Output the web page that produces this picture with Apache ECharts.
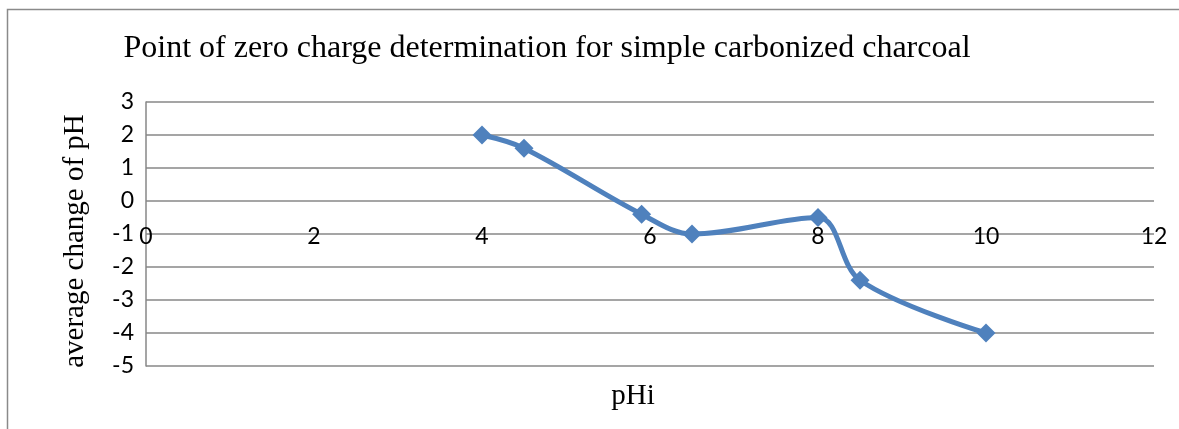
<!DOCTYPE html>
<html>
<head>
<meta charset="utf-8">
<script src="https://cdn.jsdelivr.net/npm/echarts@6/dist/echarts.min.js"></script>
<style>
  html, body { margin: 0; padding: 0; background: #fff; }
  #chart { width: 1179px; height: 429px; }
</style>
</head>
<body>
<div id="chart"></div>
<script>
// Initial pH of each solution and the average pH change measured after contact
const pHi = [4, 4.5, 5.9, 6.5, 8, 8.5, 10];
const deltaPH = [2, 1.6, -0.4, -1, -0.5, -2.4, -4];
const xTicks = [0, 2, 4, 6, 8, 10, 12];
const yTicks = [-5, -4, -3, -2, -1, 0, 1, 2, 3];

const titleText = 'Point of zero charge determination for simple carbonized charcoal';
const xName = 'pHi';
const yName = 'average change of pH';

const points = pHi.map((x, i) => [x, deltaPH[i]]);
const gridColor = '#878787';
const serif = '"Liberation Serif", "Times New Roman", serif';
const sans = 'Lato, Carlito, Calibri, sans-serif';

const chart = echarts.init(document.getElementById('chart'), null, { renderer: 'canvas' });
chart.setOption({
  animation: false,
  backgroundColor: '#ffffff',
  title: {
    text: titleText,
    left: 542,
    top: 28,
    textAlign: 'center',
    textStyle: { fontFamily: serif, fontSize: 32, fontWeight: 'normal', color: '#000' }
  },
  graphic: [
    {
      // outer chart frame
      type: 'rect',
      shape: { x: 7.5, y: 9.5, width: 1300, height: 600 },
      style: { fill: null, stroke: '#8a8a8a', lineWidth: 1.5 },
      silent: true
    },
    {
      // y-axis title
      type: 'text',
      x: 75, y: 241,
      rotation: Math.PI / 2,
      style: {
        text: yName, fill: '#000',
        font: '29px ' + serif,
        align: 'center', verticalAlign: 'middle'
      },
      silent: true
    },
    {
      // x-axis title
      type: 'text',
      x: 633, y: 396,
      style: {
        text: xName, fill: '#000',
        font: '29px ' + serif,
        align: 'center', verticalAlign: 'middle'
      },
      silent: true
    }
  ],
  grid: { left: 146, right: 25, top: 102, bottom: 63, containLabel: false, outerBoundsMode: 'none' },
  xAxis: {
    type: 'value',
    position: 'bottom',
    min: xTicks[0],
    max: xTicks[xTicks.length - 1],
    interval: 2,
    axisLine: { show: false, onZero: false },
    axisTick: { show: false },
    splitLine: { show: false },
    axisLabel: {
      // tick labels sit along the -1 gridline, above the bottom edge
      margin: -141,
      fontFamily: sans, fontSize: 23, color: '#000',
      formatter: v => xTicks.includes(v) ? String(v) : ''
    }
  },
  yAxis: {
    type: 'value',
    min: yTicks[0],
    max: yTicks[yTicks.length - 1],
    interval: 1,
    axisLine: { show: true, onZero: false, lineStyle: { color: gridColor, width: 1.5 } },
    axisTick: { show: false },
    splitLine: { show: true, lineStyle: { color: gridColor, width: 1.5 } },
    axisLabel: {
      margin: 12,
      fontFamily: sans, fontSize: 23, color: '#000',
      formatter: v => String(v)
    }
  },
  series: [{
    type: 'line',
    data: points,
    smooth: 0.35,
    symbol: 'diamond',
    symbolSize: 19,
    lineStyle: { color: '#4F81BD', width: 5 },
    itemStyle: { color: '#4F81BD' },
    z: 5
  }]
});
</script>
</body>
</html>
